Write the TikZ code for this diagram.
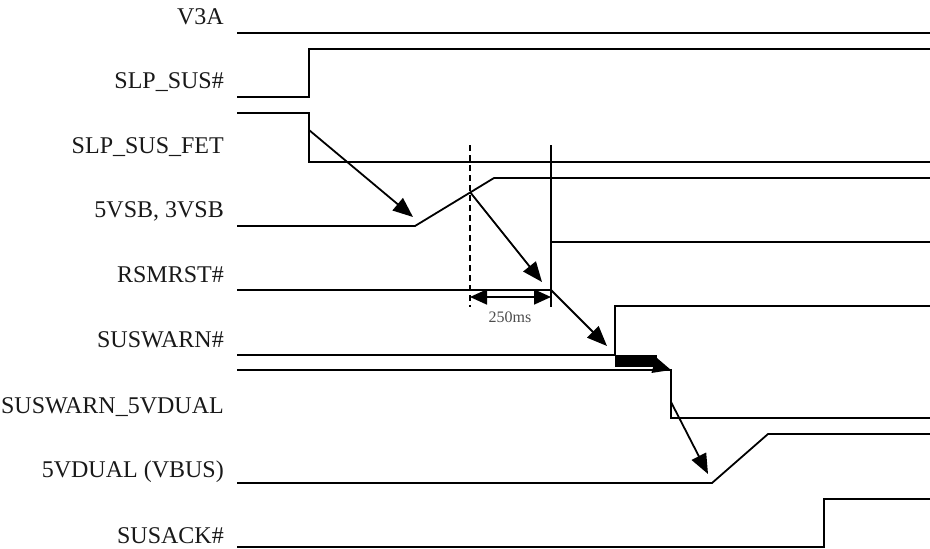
\documentclass[tikz,border=0pt]{standalone}
\usepackage{fontspec}
\setmainfont{Liberation Serif}
\usetikzlibrary{arrows.meta}
\begin{document}
\begin{tikzpicture}[x=1pt,y=-1pt,
  sig/.style={line width=1.8pt, line join=miter},
  lab/.style={anchor=base east, font=\fontsize{24}{24}\selectfont, inner sep=0pt, text=black!90},
  arr/.style={line width=1.8pt, -{Triangle[length=20pt,width=16pt]}},
  dim/.style={line width=1.8pt, {Triangle[length=17pt,width=15pt]}-{Triangle[length=17pt,width=15pt]}}]
\useasboundingbox (0,0) rectangle (930,549);
% labels
\node[lab] (lV3A) at (224,24) {V3A};
\node[lab] (lSLP) at (224,88) {SLP\_SUS\#};
\node[lab] (lFET) at (224,153) {SLP\_SUS\_FET};
\node[lab] (lVSB) at (224,217) {5VSB, 3VSB};
\node[lab] (lRSM) at (224,282) {RSMRST\#};
\node[lab] (lSW) at (224,347) {SUSWARN\#};
\node[lab] (lSW5) at (224,413) {SUSWARN\_5VDUAL};
\node[lab] (lVD) at (224,477) {5VDUAL (VBUS)};
\node[lab] (lACK) at (224,543) {SUSACK\#};
% waveforms
\draw[sig] (237,33) -- (930,33);
\draw[sig] (237,97) -- (309,97) -- (309,49) -- (930,49);
\draw[sig] (237,113) -- (309,113) -- (309,162) -- (930,162);
\draw[sig] (237,226) -- (415,226) -- (494,178) -- (930,178);
\draw[sig] (237,290) -- (551,290) -- (551,242) -- (930,242);
\draw[sig] (551,145) -- (551,307);
\draw[sig, dash pattern=on 6pt off 4pt] (470,145) -- (470,307);
\draw[sig] (237,355) -- (615,355) -- (615,306) -- (930,306);
\draw[sig] (237,370) -- (671,370) -- (671,418) -- (930,418);
\draw[sig] (237,483) -- (712,483) -- (768,434) -- (930,434);
\draw[sig] (237,547) -- (824,547) -- (824,499) -- (930,499);
% arrow points
\coordinate (a1s) at (309,130); \coordinate (a1e) at (413,217);
\coordinate (a2s) at (470,192); \coordinate (a2e) at (542,282);
\coordinate (a3s) at (551,290); \coordinate (a3e) at (607,346);
\coordinate (a4s) at (671,402); \coordinate (a4e) at (708,474);
\coordinate (t1) at (470,297); \coordinate (t2) at (551,297);
\coordinate (b1) at (650,364); \coordinate (b2) at (671,370);
\draw[arr] (a1s) -- (a1e);
\draw[arr] (a2s) -- (a2e);
\draw[arr] (a3s) -- (a3e);
\draw[arr] (a4s) -- (a4e);
\draw[dim] (t1) -- (t2);
\fill (615,355) rectangle (657,367);
\draw[line width=1.8pt, -{Triangle[length=18pt,width=16pt]}] (b1) -- (b2);
\node[font=\fontsize{16}{16}\selectfont, text=black!70, inner sep=0pt] (lms) at (510,317) {250ms};
\end{tikzpicture}
\end{document}
